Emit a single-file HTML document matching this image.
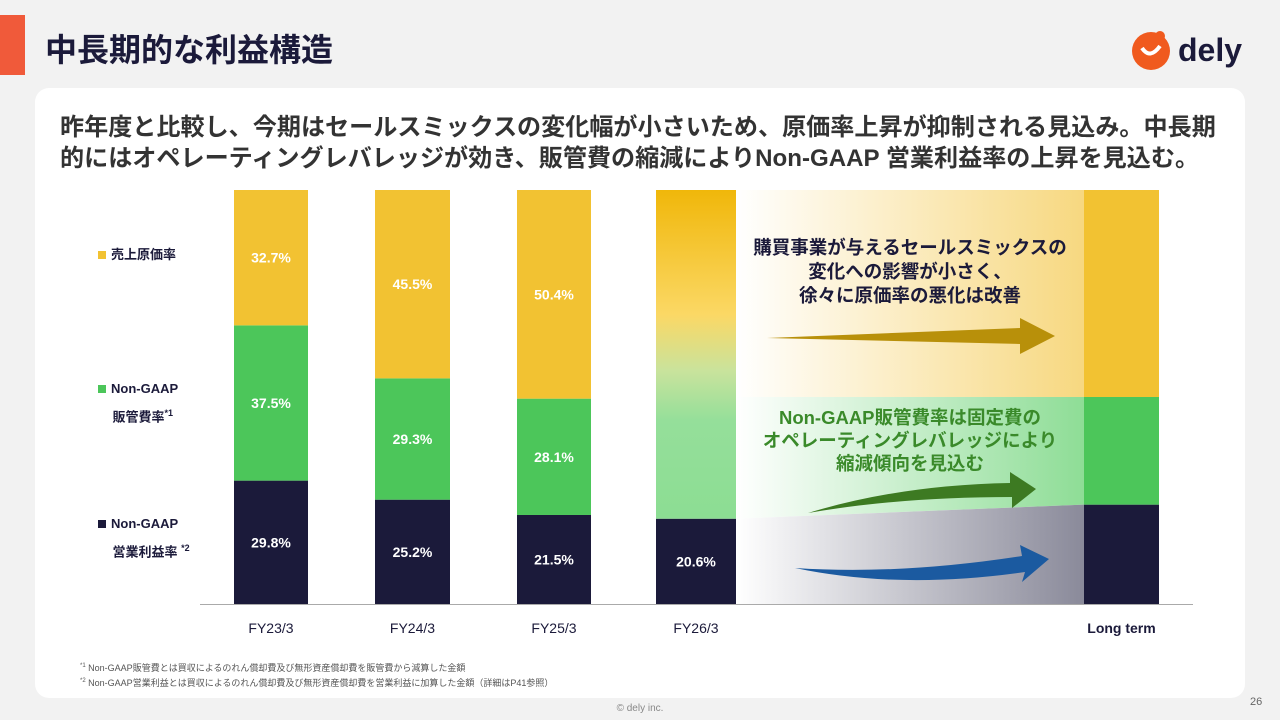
<!DOCTYPE html>
<html><head><meta charset="utf-8"><style>
body{margin:0;width:1280px;height:720px;background:#f2f2f2;font-family:"Liberation Sans","Noto Sans CJK JP",sans-serif;position:relative;overflow:hidden}
.abs{position:absolute}
</style></head><body>
<div class="abs" style="left:0;top:15px;width:25px;height:60px;background:#f05a3a"></div>
<div class="abs" style="left:45px;top:25px;font-size:32px;font-weight:bold;color:#1b1a3a">中長期的な利益構造</div>
<div class="abs" style="left:1130px;top:28px;width:120px;height:44px">
<svg width="120" height="44"><circle cx="21" cy="23" r="19" fill="#f05a1e"/><path d="M12 20 q8 12 18 -2" stroke="#fff" stroke-width="4" fill="none"/><circle cx="30" cy="8" r="5" fill="#f05a1e"/>
<text x="48" y="33" font-size="32" font-weight="bold" fill="#1b1a3a" font-family="Liberation Sans">dely</text></svg></div>
<div class="abs" style="left:35px;top:88px;width:1210px;height:610px;background:#fff;border-radius:14px"></div>
<div class="abs" style="left:60px;top:112px;font-size:24.1px;font-weight:bold;color:#333;line-height:31px;white-space:nowrap">昨年度と比較し、今期はセールスミックスの変化幅が小さいため、原価率上昇が抑制される見込み。中長期<br>的にはオペレーティングレバレッジが効き、販管費の縮減によりNon-GAAP 営業利益率の上昇を見込む。</div>
<svg class="abs" style="left:0;top:0" width="1280" height="720" id="chart">
<defs>
<linearGradient id="gy" x1="0" x2="1"><stop offset="0" stop-color="#fff"/><stop offset="1" stop-color="#f7d880"/></linearGradient>
<linearGradient id="gg" x1="0" x2="1"><stop offset="0" stop-color="#fff"/><stop offset="1" stop-color="#8edd96"/></linearGradient>
<linearGradient id="gn" x1="0" x2="1"><stop offset="0" stop-color="#fff"/><stop offset="1" stop-color="#8a8a9a"/></linearGradient>
<linearGradient id="g26" x1="0" y1="0" x2="0" y2="1"><stop offset="0" stop-color="#f0b70a"/><stop offset="0.38" stop-color="#fbd865"/><stop offset="0.55" stop-color="#c9e39c"/><stop offset="0.7" stop-color="#95df9a"/><stop offset="1" stop-color="#8cdd93"/></linearGradient>
</defs>
<g id="bg"></g><g id="bars"></g><g id="labels"></g>
</svg>
<div class="abs" style="left:735px;top:236px;width:350px;text-align:center;font-size:18.5px;font-weight:bold;color:#1b1a3a;line-height:24px">購買事業が与えるセールスミックスの<br>変化への影響が小さく、<br>徐々に原価率の悪化は改善</div>
<div class="abs" style="left:735px;top:406px;width:350px;text-align:center;font-size:18.5px;font-weight:bold;color:#3a8a2a;line-height:23px">Non-GAAP販管費率は固定費の<br>オペレーティングレバレッジにより<br>縮減傾向を見込む</div>
<div class="abs" style="left:98px;top:244px;font-size:13px;font-weight:bold;color:#1b1a3a"><span style="display:inline-block;width:8px;height:8px;background:#f2c232;margin-right:5px"></span>売上原価率</div>
<div class="abs" style="left:98px;top:377px;font-size:13px;font-weight:bold;color:#1b1a3a;line-height:24px"><span style="display:inline-block;width:8px;height:8px;background:#4cc65a;margin-right:5px"></span>Non-GAAP<br>&nbsp;&nbsp;&nbsp;&nbsp;販管費率<sup style="font-size:9px">*1</sup></div>
<div class="abs" style="left:98px;top:512px;font-size:13px;font-weight:bold;color:#1b1a3a;line-height:24px"><span style="display:inline-block;width:8px;height:8px;background:#1b1a3a;margin-right:5px"></span>Non-GAAP<br>&nbsp;&nbsp;&nbsp;&nbsp;営業利益率 <sup style="font-size:9px">*2</sup></div>
<div class="abs" style="left:80px;top:660px;font-size:9px;color:#555;line-height:13px"><sup style="font-size:6px">*1</sup> Non-GAAP販管費とは買収によるのれん償却費及び無形資産償却費を販管費から減算した金額<br><sup style="font-size:6px">*2</sup> Non-GAAP営業利益とは買収によるのれん償却費及び無形資産償却費を営業利益に加算した金額（詳細はP41参照）</div>
<div class="abs" style="left:0;width:1280px;top:703px;text-align:center;font-size:10px;color:#888">© dely inc.</div>
<div class="abs" style="left:1250px;top:696px;font-size:11px;color:#666">26</div>
<script>
const categories=["FY23/3","FY24/3","FY25/3","FY26/3","Long term"];
const opMargin=[29.8,25.2,21.5,20.6,24];
const sgaRatio=[37.5,29.3,28.1,79.4,26];
const cogsRatio=[32.7,45.5,50.4,0,50];
const showLabels=[true,true,true,true,false];
const NS="http://www.w3.org/2000/svg";
const base=604,top0=190,H=base-top0;
const xs=[234,375,517,656,1084],ws=[74,75,74,80,75];
const y=v=>base-v/100*H;
function el(t,a,p){const e=document.createElementNS(NS,t);for(const k in a)e.setAttribute(k,a[k]);p.appendChild(e);return e;}
const bars=document.getElementById('bars'),labels=document.getElementById('labels'),bg=document.getElementById('bg');
const x0=xs[3]+ws[3],x1=xs[4];
const l1=y(opMargin[3]),r1=y(opMargin[4]),r2=y(opMargin[4]+sgaRatio[4]),l2=r2;
let p=el('polygon',{points:`${x0},${top0} ${x1},${top0} ${x1},${r2} ${x0},${l2}`,fill:'url(#gy)'},bg);

p=el('polygon',{points:`${x0},${l2} ${x1},${r2} ${x1},${r1} ${x0},${l1}`,fill:'url(#gg)'},bg);

p=el('polygon',{points:`${x0},${l1} ${x1},${r1} ${x1},${base} ${x0},${base}`,fill:'url(#gn)'},bg);

p=el('path',{d:'M767,338 L1020,328 L1020,318 L1055,336 L1020,354 L1020,344 Z',fill:'#b8900a'},bg);

p=el('path',{d:'M808,513 Q900,485 1010,483 L1010,472 L1036,489 L1012,508 L1012,497 Q900,497 808,513 Z',fill:'#3d7a22'},bg);

p=el('path',{d:'M795,568 Q900,590 1025,572 L1022,582 L1049,559 L1020,545 L1022,556 Q900,575 795,568 Z',fill:'#1b5aa0'},bg);

categories.forEach((c,i)=>{
  const segs=[[opMargin[i],'#1b1a3a','op'],[sgaRatio[i],i==3?'url(#g26)':'#4cc65a','sga'],[cogsRatio[i],'#f2c232','cogs']];
  let acc=0;
  segs.forEach(s=>{
    if(s[0]<=0)return;
    const r=el('rect',{x:xs[i],y:y(acc+s[0]),width:ws[i],height:s[0]/100*H,fill:s[1]},bars);
    
    
    if(showLabels[i]&&!(i==3&&s[2]!='op')){
      const t=el('text',{x:xs[i]+ws[i]/2,y:y(acc+s[0]/2)+5,'text-anchor':'middle','font-size':14,'font-weight':'bold',fill:'#fff'},labels);
      t.textContent=s[0].toFixed(1)+'%';
      
      
    }
    acc+=s[0];
  });
  const t=el('text',{x:xs[i]+ws[i]/2,y:633,'text-anchor':'middle','font-size':14,'font-weight':i==4?'bold':'normal',fill:'#1b1a3a'},labels);
  t.textContent=c;
  
  
});
const ax=el('line',{x1:200,x2:1193,y1:base+0.5,y2:base+0.5,stroke:'#aaa','stroke-width':1},labels);


</script>
</body></html>
